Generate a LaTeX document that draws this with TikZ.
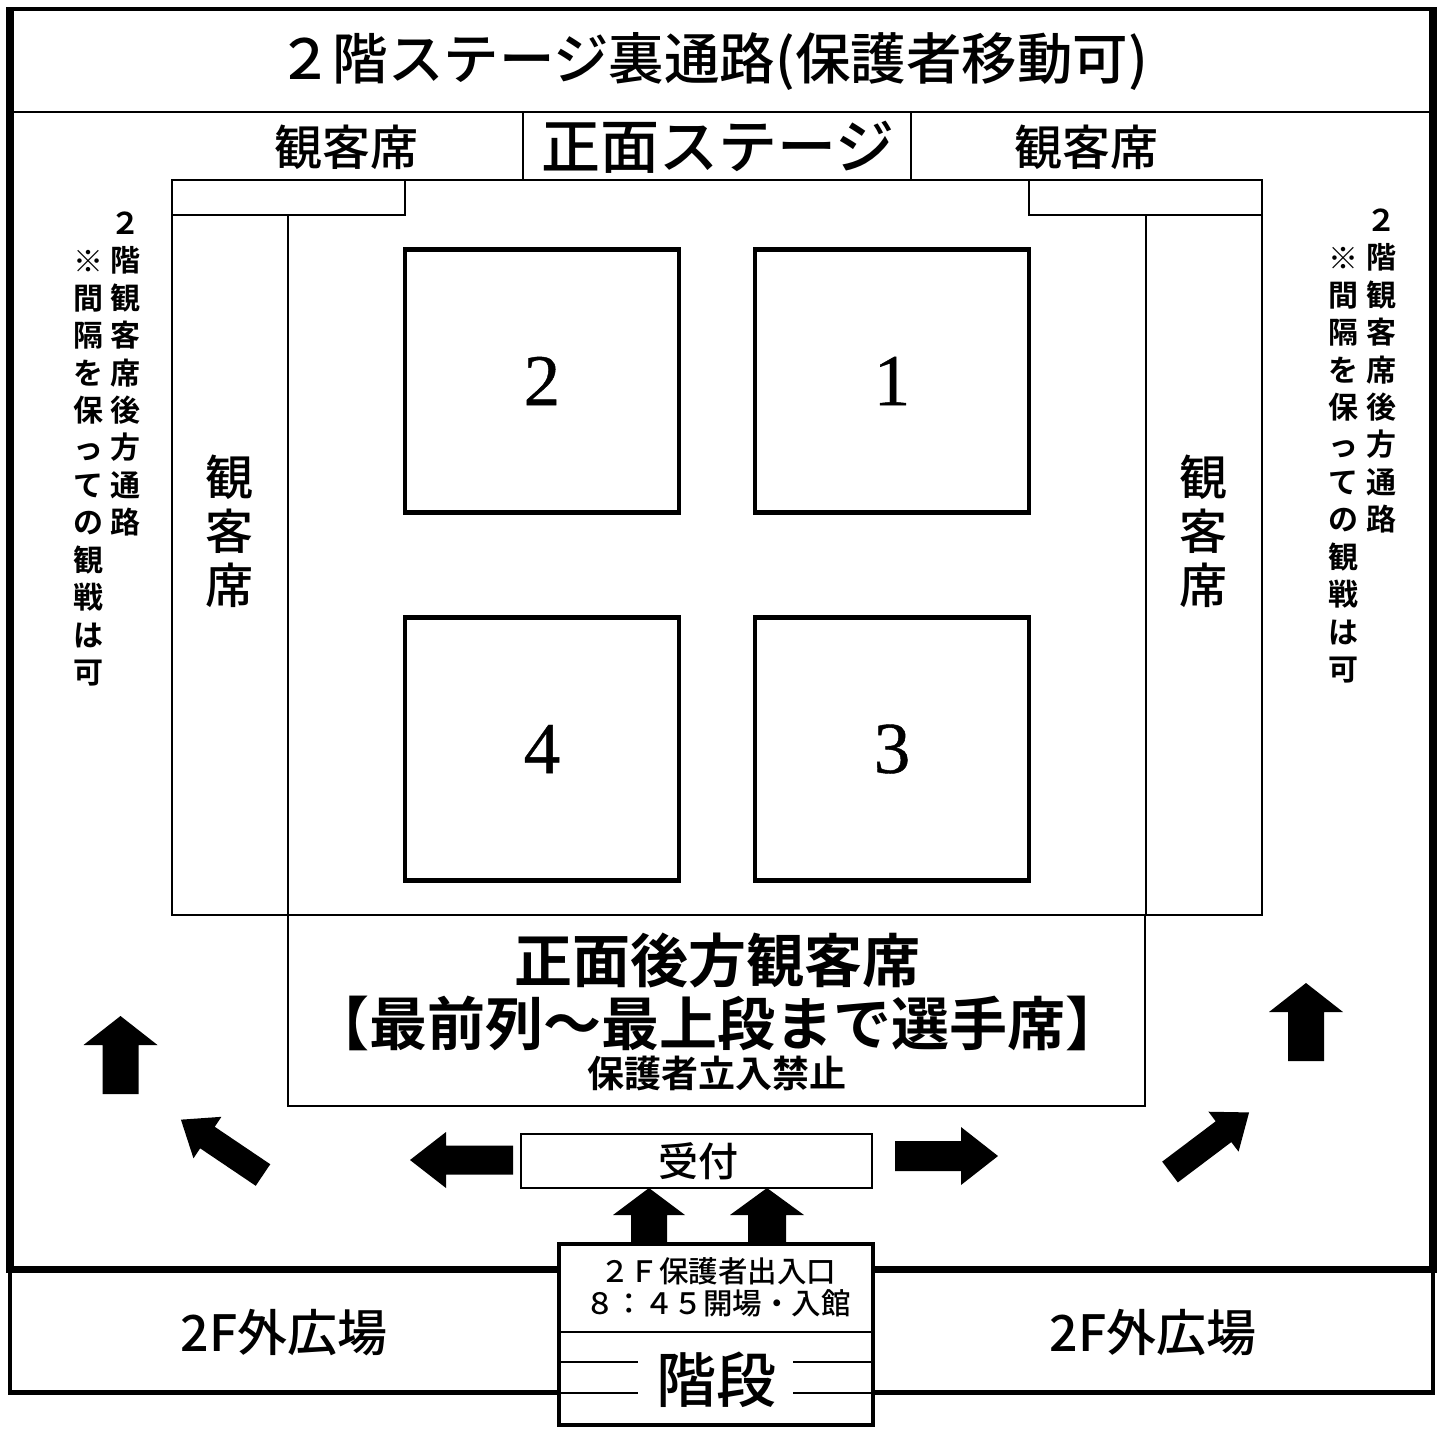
\documentclass[tikz,border=0pt]{standalone}
\usepackage{fontspec}
\setmainfont[UprightFont=* Medium,BoldFont=* Bold]{Noto Sans CJK JP}
\newfontfamily\latinserif[FakeBold=0.6]{Liberation Serif}
\tikzset{x=1pt,y=-1pt,
 thin box/.style={draw=black,line width=2pt,fill=white},
 court/.style={draw=black,line width=4.5pt,fill=white,minimum width=274pt,minimum height=263pt,inner sep=0pt,font=\latinserif\fontsize{73}{73}\selectfont},
 frame/.style={draw=black,line width=4.5pt},
 heavy frame/.style={draw=black,line width=7.5pt},
 lbl/.style={inner sep=0pt,align=center,font=\fontsize{#1}{#1}\selectfont},
 blbl/.style={inner sep=0pt,align=center,font=\fontsize{#1}{#1}\bfseries\selectfont},
 vlbl/.style={inner sep=0pt,align=center,font=\fontsize{#1}{37.4}\bfseries\selectfont},
}
\newcommand{\blockarrow}[7]{% x,y tail centre, angle, length, head length, head half, shaft half
 \begin{scope}[shift={(#1,#2)},rotate=#3]
 \fill[black] (0,-#7) -- (#4-#5,-#7) -- (#4-#5,-#6) -- (#4,0) -- (#4-#5,#6) -- (#4-#5,#7) -- (0,#7) -- cycle;
 \end{scope}}
\begin{document}
\begin{tikzpicture}
\useasboundingbox (0,0) rectangle (1443,1428);
\fill[white] (0,0) rectangle (1443,1428);
% outer frames
\draw[frame] (10,1269.5) |- (1433,1392.5) -- (1433,1269.5);
\draw[frame] (7,9) -- (1436,9);
\draw[heavy frame] (10,7) -- (10,1269.5);
\draw[heavy frame] (1433,7) -- (1433,1269.5);
\draw[heavy frame] (6,1269.5) -- (1437,1269.5);
\draw[thin box,fill=none] (9,112) -- (1434,112);
\node[lbl=55.5] (title) at (712.5,62) {２階ステージ裏通路(保護者移動可)};
% stage row
\draw[thin box] (523,112) rectangle (911,180);
\node[lbl=59] (stage) at (718,147) {正面ステージ};
\node[lbl=48] (seatTL) at (346,147) {観客席};
\node[lbl=48] (seatTR) at (1086,147) {観客席};
% seats
\draw[thin box] (172,180) rectangle (1262,915);
\draw[thin box] (172,180) rectangle (405,215);
\draw[thin box] (1029,180) rectangle (1262,215);
\draw[thin box,fill=none] (288,215) -- (288,915);
\draw[thin box,fill=none] (1146,215) -- (1146,915);
\draw[thin box] (288,915) rectangle (1145,1106);
\node[lbl=48] (seatL) at (229,531) {観\\[6pt]客\\[6pt]席};
\node[lbl=48] (seatR) at (1203,531) {観\\[6pt]客\\[6pt]席};
% courts
\node[court] (c2) at (542,381) {2};
\node[court] (c1) at (892,381) {1};
\node[court] (c4) at (542,749) {4};
\node[court] (c3) at (892,749) {3};
% rear seats
\node[blbl=58] (rear1) at (717,961) {正面後方観客席};
\node[blbl=58] (rear2) at (717,1023) {【最前列〜最上段まで選手席】};
\node[blbl=37] (rear3) at (717,1073) {保護者立入禁止};
% side notes
\node[vlbl=30] (nL1) at (125,374) {２\\階\\観\\客\\席\\後\\方\\通\\路};
\node[vlbl=30] (nL2) at (88,468) {※\\間\\隔\\を\\保\\っ\\て\\の\\観\\戦\\は\\可};
\node[vlbl=30] (nR1) at (1381,371) {２\\階\\観\\客\\席\\後\\方\\通\\路};
\node[vlbl=30] (nR2) at (1343,465) {※\\間\\隔\\を\\保\\っ\\て\\の\\観\\戦\\は\\可};
% arrows
\blockarrow{120.5}{1094}{90}{78}{29}{37}{18}
\blockarrow{1306}{1061}{90}{78}{29}{37}{18}
\blockarrow{263}{1175}{146}{99}{32}{25}{13}
\blockarrow{1170}{1172}{37}{99}{32}{25}{13}
\blockarrow{513}{1160}{180}{103}{36}{28}{14.5}
\blockarrow{895}{1156}{0}{103}{37}{29}{15}
\blockarrow{649}{1245}{90}{57}{27}{36}{18}
\blockarrow{767}{1245}{90}{57}{27}{37}{19}
% reception
\draw[thin box] (521,1134) rectangle (872,1188);
\node[lbl=40] (recep) at (698,1161) {受付};
% entrance
\draw[draw=black,line width=4.5pt,fill=white] (559,1244) rectangle (873,1425);
\draw[thin box,fill=none] (559,1332) -- (873,1332);
\node[lbl=29.5] (ent1) at (718,1271) {２Ｆ保護者出入口};
\node[lbl=29.5] (ent2) at (718,1303) {８：４５開場・入館};
\node[lbl=60] (stairs) at (716,1380) {階段};
\coordinate (s1) at (559,1362); \coordinate (s2) at (638,1362);
\coordinate (s3) at (559,1393); \coordinate (s4) at (638,1393);
\coordinate (s5) at (793,1362); \coordinate (s6) at (873,1362);
\coordinate (s7) at (793,1393); \coordinate (s8) at (873,1393);
\draw[thin box,fill=none] (s1)--(s2) (s3)--(s4) (s5)--(s6) (s7)--(s8);
\node[lbl=50] (outL) at (284,1333) {2F外広場};
\node[lbl=50] (outR) at (1153,1333) {2F外広場};
\end{tikzpicture}
\end{document}
